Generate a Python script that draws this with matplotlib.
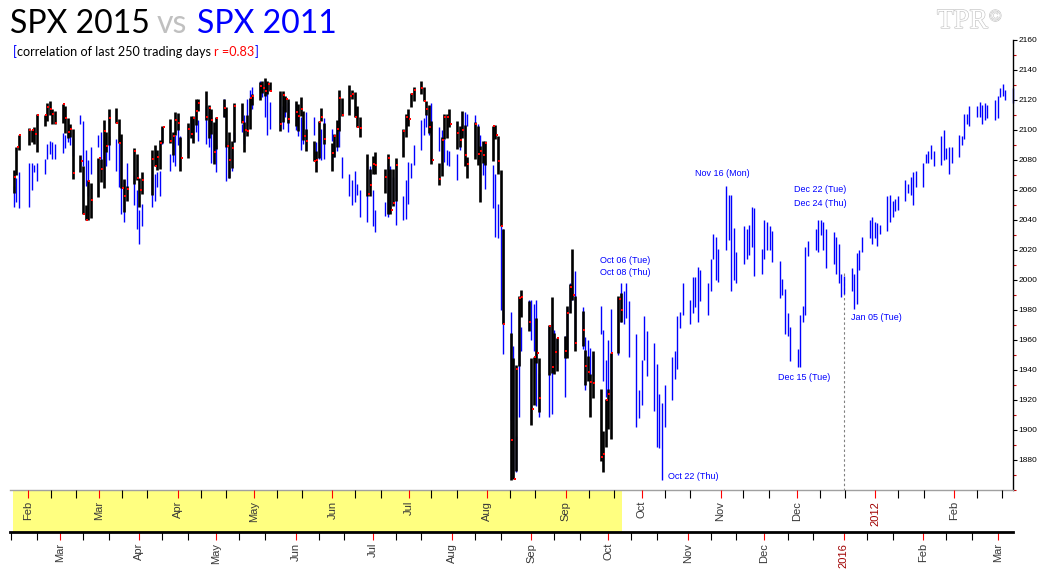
import matplotlib
matplotlib.use("Agg")
import matplotlib.pyplot as plt
import matplotlib.dates as mdates
import matplotlib.ticker as mticker
import matplotlib.transforms as mtransforms
import matplotlib.patheffects as pe
import pandas as pd

plt.rcParams['font.family'] = ['Liberation Sans', 'DejaVu Sans']

# ---------------- data ----------------
HOLIDAYS_2015 = ['2015-02-16', '2015-04-03', '2015-05-25', '2015-07-03', '2015-09-07']
START_2015 = '2015-02-11'
END_2015 = '2015-10-06'
FUTURE_START = '2015-10-07'
FUTURE_END = '2016-03-07'

# SPX 2015 (black bars): high, low, close
spx15_high = [
    2073.5, 2088.5, 2097.0,
    2101.3, 2100.2, 2102.1, 2110.6,
    2110.1, 2117.9, 2119.6, 2113.9, 2112.7,
    2117.5, 2115.8, 2107.7, 2104.3, 2100.9,
    2083.5, 2076.2, 2050.1, 2066.4, 2064.6,
    2081.4, 2080.6, 2106.9, 2098.7, 2113.9,
    2114.9, 2107.6, 2097.4, 2067.2, 2062.8,
    2088.0, 2084.1, 2067.9, 2072.2,
    2087.0, 2089.8, 2086.7, 2093.3, 2102.6,
    2107.6, 2098.6, 2111.9, 2111.3, 2095.1,
    2105.0, 2109.6, 2109.6, 2120.5, 2120.9,
    2125.9, 2116.9, 2113.8, 2105.1, 2108.4,
    2120.9, 2115.2, 2098.4, 2092.9, 2117.7,
    2117.7, 2105.1, 2110.2, 2121.5, 2123.9,
    2131.8, 2133.0, 2134.7, 2133.0, 2132.2,
    2126.2, 2126.1, 2122.5, 2120.7,
    2119.1, 2117.6, 2121.9, 2112.9, 2100.9,
    2093.0, 2085.7, 2106.0, 2115.0, 2104.9,
    2091.3, 2097.4, 2106.8, 2126.6, 2121.6,
    2130.0, 2127.0, 2125.1, 2116.0, 2108.9,
    2084.0, 2074.3, 2082.8, 2085.1,
    2074.2, 2083.7, 2074.3, 2074.2, 2081.3,
    2100.7, 2111.0, 2114.2, 2124.4, 2128.4,
    2132.8, 2128.9, 2119.1, 2116.9, 2106.0,
    2078.0, 2095.6, 2110.6, 2110.5, 2114.2,
    2105.7, 2102.7, 2112.7, 2103.3, 2082.0,
    2105.4, 2102.4, 2089.1, 2092.9, 2092.9,
    2102.9, 2103.5, 2096.2, 2073.6, 2034.1,
    1965.0, 1948.0, 1943.1, 1989.6, 1993.5,
    1986.0, 1947.8, 1948.9, 1975.0, 1947.8,
    1970.0, 1988.6, 1965.0, 1961.1,
    1963.0, 1983.0, 1997.3, 2020.9, 1989.4,
    1979.6, 1953.6, 1949.5, 1937.2, 1952.9,
    1927.2, 1899.5, 1920.5, 1927.2, 1951.4,
    1989.2, 1991.6,
]
spx15_low = [
    2058.0, 2070.0, 2086.7,
    2089.8, 2092.2, 2090.8, 2085.4,
    2103.0, 2105.9, 2109.9, 2103.8, 2103.8,
    2104.5, 2098.3, 2094.5, 2095.2, 2067.3,
    2072.2, 2044.2, 2039.7, 2040.2, 2041.2,
    2055.1, 2065.1, 2061.2, 2085.6, 2090.3,
    2104.4, 2091.1, 2061.1, 2045.5, 2052.9,
    2064.0, 2067.0, 2048.4, 2057.3,
    2056.5, 2076.1, 2073.3, 2074.3, 2091.1,
    2091.5, 2083.2, 2097.0, 2100.0, 2072.4,
    2081.2, 2094.4, 2091.1, 2103.2, 2112.8,
    2107.0, 2094.9, 2097.4, 2077.6, 2087.3,
    2108.4, 2088.5, 2067.9, 2075.0, 2092.1,
    2104.6, 2085.6, 2096.0, 2100.4, 2116.8,
    2120.0, 2124.5, 2122.6, 2124.3, 2126.1,
    2099.2, 2105.1, 2112.1, 2104.9,
    2102.5, 2099.1, 2109.6, 2093.2, 2085.7,
    2079.1, 2072.1, 2081.2, 2106.1, 2091.0,
    2072.5, 2082.1, 2088.9, 2099.1, 2109.5,
    2110.1, 2120.8, 2108.6, 2101.8, 2095.4,
    2056.2, 2056.3, 2071.0, 2071.0,
    2058.3, 2044.0, 2044.3, 2049.3, 2052.4,
    2082.0, 2095.5, 2102.5, 2115.4, 2119.4,
    2123.7, 2119.2, 2110.1, 2098.1, 2077.1,
    2063.5, 2069.1, 2094.1, 2094.4, 2102.1,
    2087.3, 2088.6, 2095.0, 2075.7, 2067.9,
    2080.6, 2076.5, 2052.1, 2078.3, 2076.9,
    2079.3, 2094.1, 2070.5, 2035.7, 1970.9,
    1867.0, 1867.1, 1872.8, 1942.8, 1975.2,
    1966.0, 1903.1, 1916.5, 1944.7, 1911.7,
    1937.0, 1937.9, 1937.2, 1939.2,
    1948.3, 1948.3, 1977.9, 1986.7, 1953.0,
    1955.8, 1929.8, 1932.6, 1908.9, 1921.5,
    1879.2, 1871.9, 1888.9, 1900.7, 1893.7,
    1951.4, 1972.0,
]
spx15_close = [
    2068.5, 2088.5, 2097.0,
    2100.3, 2099.7, 2097.5, 2110.3,
    2109.7, 2115.5, 2113.9, 2110.7, 2104.5,
    2117.4, 2107.8, 2098.5, 2101.0, 2071.3,
    2079.4, 2044.2, 2040.2, 2065.9, 2053.4,
    2081.2, 2074.3, 2099.5, 2089.3, 2108.1,
    2104.4, 2091.5, 2061.1, 2056.2, 2061.0,
    2086.2, 2067.9, 2059.7, 2067.0,
    2080.6, 2076.3, 2081.9, 2091.2, 2102.1,
    2092.4, 2095.8, 2106.6, 2105.0, 2081.2,
    2100.4, 2097.3, 2108.0, 2112.9, 2117.7,
    2108.9, 2114.8, 2106.9, 2085.5, 2108.3,
    2114.5, 2089.5, 2080.2, 2088.0, 2116.1,
    2105.3, 2099.9, 2099.1, 2121.1, 2122.7,
    2129.2, 2127.8, 2125.9, 2130.8, 2126.1,
    2104.2, 2123.5, 2120.8, 2107.4,
    2111.7, 2109.6, 2114.1, 2095.8, 2092.8,
    2079.3, 2080.2, 2105.2, 2108.9, 2094.1,
    2084.4, 2096.3, 2100.4, 2121.2, 2110.0,
    2122.9, 2124.2, 2108.6, 2102.3, 2101.5,
    2057.6, 2063.1, 2077.4, 2076.8,
    2068.8, 2081.3, 2046.7, 2051.3, 2076.6,
    2099.6, 2109.0, 2107.4, 2124.3, 2126.6,
    2128.3, 2119.2, 2114.2, 2102.2, 2079.7,
    2067.6, 2093.3, 2108.6, 2108.6, 2103.8,
    2098.0, 2093.3, 2099.8, 2083.6, 2077.6,
    2104.2, 2084.1, 2086.1, 2083.4, 2091.5,
    2102.4, 2096.9, 2079.6, 2035.7, 1970.9,
    1893.2, 1867.6, 1940.5, 1987.7, 1988.9,
    1972.2, 1913.9, 1948.9, 1951.1, 1921.2,
    1969.4, 1942.0, 1952.3, 1961.1,
    1953.0, 1978.1, 1995.3, 1990.2, 1958.0,
    1967.0, 1942.7, 1938.8, 1932.2, 1931.3,
    1881.8, 1884.1, 1920.0, 1923.8, 1951.4,
    1987.1, 1979.9,
]

# SPX 2011 (blue bars), rescaled to 2015 levels: high, low
spx11_high = [
    2063, 2068, 2072,
    2078, 2078, 2077, 2078,
    2081, 2091, 2093, 2092, 2091,
    2098, 2097, 2100, 2099, 2095,
    2110, 2106, 2087, 2080, 2089,
    2097, 2099, 2094, 2090, 2096,
    2094, 2093, 2062, 2067, 2078,
    2070, 2060, 2047, 2051,
    2069, 2071, 2072, 2073, 2102,
    2084, 2094, 2097, 2104, 2096,
    2103, 2109, 2107, 2112, 2107,
    2116, 2113, 2109, 2100, 2090,
    2121, 2093, 2089, 2087, 2099,
    2104, 2110, 2121, 2127, 2129,
    2133, 2131, 2131, 2131, 2119,
    2124, 2116, 2122, 2119,
    2118, 2113, 2109, 2107, 2112,
    2109, 2092, 2094, 2101, 2108,
    2101, 2097, 2103, 2109, 2082,
    2071, 2067, 2073, 2064, 2060,
    2061, 2076, 2060, 2047,
    2052, 2078, 2076, 2069, 2078,
    2056, 2067, 2079, 2078, 2090,
    2107, 2108, 2114, 2116, 2118,
    2102, 2100, 2094, 2087, 2086,
    2084, 2093, 2104, 2112, 2111,
    2110, 2104, 2097, 2084, 2080,
    2077, 2071, 2051, 2036, 2034,
    1979, 1956, 1896, 1967, 1969,
    1987, 1987, 1984, 1987, 1938,
    1969, 1971, 1967, 1961,
    1963, 1982, 1998, 1997, 2006,
    1982, 1962, 1960, 1955, 1950,
    1983, 1967, 1947, 1960, 1981,
    1988, 1998,
    # projection
    1993, 1998, 1986,
    1964, 1927, 1947, 1976, 1966,
    1958, 1944, 1924, 1918, 1930,
    1949, 1953, 1976, 1979, 1998,
    1987, 2002, 2002, 2009, 2007,
    1998, 2014, 2031, 2029, 2021,
    2063, 2057, 2057, 2035, 2019,
    2036, 2034, 2037, 2049, 2048,
    2021, 2040, 2039, 2036, 2033,
    2013, 2001, 1994, 1978, 1969,
    1954, 1977, 1983, 2022, 2026,
    2034, 2040, 2040, 2039, 2034,
    2032, 2029, 2024, 2004, 2003,
    2008, 2004, 2018, 2020, 2029,
    2040, 2042, 2039, 2038, 2037,
    2056, 2057, 2053, 2054, 2056,
    2067, 2064, 2069, 2072, 2073,
    2078, 2084, 2086, 2090, 2086,
    2096, 2100, 2088, 2089, 2089,
    2097, 2096, 2111, 2111, 2116,
    2116, 2119, 2117, 2118, 2117,
    2120, 2123, 2128, 2131, 2127,
    2128,
]
spx11_low = [
    2049, 2052, 2048,
    2049, 2060, 2072, 2066,
    2071, 2081, 2084, 2081, 2081,
    2085, 2088, 2092, 2090, 2083,
    2104, 2076, 2063, 2056, 2071,
    2089, 2073, 2067, 2076, 2080,
    2073, 2062, 2044, 2039, 2062,
    2050, 2034, 2024, 2036,
    2049, 2053, 2062, 2056, 2091,
    2073, 2079, 2076, 2090, 2088,
    2084, 2097, 2092, 2099, 2093,
    2091, 2089, 2078, 2079, 2072,
    2109, 2066, 2068, 2073, 2092,
    2099, 2091, 2103, 2113, 2114,
    2127, 2122, 2109, 2097, 2101,
    2104, 2101, 2109, 2099,
    2100, 2096, 2087, 2091, 2094,
    2097, 2079, 2081, 2080, 2081,
    2093, 2082, 2086, 2089, 2068,
    2056, 2050, 2052, 2057, 2042,
    2039, 2062, 2036, 2032,
    2043, 2042, 2047, 2051, 2037,
    2040, 2041, 2051, 2068, 2077,
    2087, 2097, 2102, 2097, 2100,
    2086, 2092, 2079, 2077, 2076,
    2067, 2087, 2096, 2096, 2103,
    2083, 2086, 2080, 2070, 2061,
    2048, 2029, 2028, 1980, 1951,
    1907, 1873, 1872, 1909, 1953,
    1967, 1960, 1953, 1916, 1909,
    1909, 1911, 1939, 1944,
    1922, 1953, 1980, 1987, 1958,
    1954, 1927, 1942, 1935, 1936,
    1964, 1933, 1922, 1925, 1920,
    1950, 1972,
    # projection
    1971, 1975, 1949,
    1902, 1908, 1917, 1947, 1936,
    1913, 1889, 1888, 1867, 1902,
    1920, 1934, 1941, 1968, 1977,
    1971, 1978, 1982, 1972, 1986,
    1977, 1993, 2014, 2000, 1999,
    2020, 2027, 1993, 2000, 1998,
    2011, 2014, 2017, 2022, 2003,
    2004, 2014, 2020, 2020, 2012,
    1988, 1990, 1964, 1963, 1946,
    1942, 1942, 1972, 1977, 2016,
    2020, 2019, 2030, 2020, 2008,
    2011, 2004, 1998, 1989, 1991,
    1993, 1981, 1984, 2007, 2019,
    2028, 2024, 2028, 2023, 2031,
    2033, 2039, 2042, 2046, 2047,
    2053, 2058, 2057, 2050, 2062,
    2062, 2078, 2078, 2081, 2076,
    2077, 2080, 2081, 2071, 2078,
    2082, 2090, 2094, 2104, 2103,
    2109, 2109, 2104, 2107, 2108,
    2107, 2108, 2122, 2123, 2120,
    2118,
]

LOWER_TICK_DATES = ['2015-03-01', '2015-04-01', '2015-05-01', '2015-06-01', '2015-07-01',
                    '2015-08-01', '2015-09-01', '2015-10-01', '2015-11-01', '2015-12-01',
                    '2016-01-01', '2016-02-01', '2016-03-01']
LOWER_TICK_LABELS = ['Mar', 'Apr', 'May', 'Jun', 'Jul', 'Aug', 'Sep', 'Oct', 'Nov', 'Dec',
                     '2016', 'Feb', 'Mar']
UPPER_TICK_DATES = ['2011-02-01', '2011-03-01', '2011-04-01', '2011-05-01', '2011-06-01',
                    '2011-07-01', '2011-08-01', '2011-09-01', '2011-10-01', '2011-11-01',
                    '2011-12-01', '2012-01-01', '2012-02-01']
UPPER_TICK_LABELS = ['Feb', 'Mar', 'Apr', 'May', 'Jun', 'Jul', 'Aug', 'Sep', 'Oct', 'Nov',
                     'Dec', '2012', 'Feb']
YEAR_LABELS = ['2016', '2012']

ANNOTATIONS = [  # (text, date, price)
    ('Oct 06 (Tue)', '2015-09-27 20:00', 2013.3),
    ('Oct 08 (Thu)', '2015-09-27 20:00', 2004.7),
    ('Nov 16 (Mon)', '2015-11-03 22:00', 2070.7),
    ('Dec 22 (Tue)', '2015-12-12 12:00', 2060.0),
    ('Dec 24 (Thu)', '2015-12-12 12:00', 2051.3),
    ('Jan 05 (Tue)', '2016-01-03 17:00', 1974.7),
    ('Dec 15 (Tue)', '2015-12-06 05:00', 1935.3),
    ('Oct 22 (Thu)', '2015-10-24 07:00', 1868.7),
]
DASH_DATE = '2016-01-01'
DASH_TOP = 2005

# ---------------- dates ----------------
dates15 = pd.bdate_range(START_2015, END_2015, freq='C', holidays=HOLIDAYS_2015)
dates11 = dates15.append(pd.bdate_range(FUTURE_START, FUTURE_END))
assert len(dates15) == len(spx15_high) == len(spx15_low) == len(spx15_close)
assert len(dates11) == len(spx11_high) == len(spx11_low)

# ---------------- figure ----------------
W, H = 1042, 576
fig = plt.figure(figsize=(W / 100, H / 100), dpi=100)


def rect(l, t, r, b):
    return [l / W, 1 - b / H, (r - l) / W, (b - t) / H]


ax = fig.add_axes(rect(10, 40, 1013, 490))
axb = fig.add_axes(rect(10, 490, 1013, 532))

x_left = pd.Timestamp('2015-02-09 12:00')
x_right = pd.Timestamp('2016-03-07 00:00')
ax.set_xlim(x_left, x_right)
axb.set_xlim(x_left, x_right)
ax.set_ylim(1860, 2160)

# bars
ax.vlines(dates11, spx11_low, spx11_high, colors='#0000ff', lw=1.0, zorder=2, clip_on=False)
ax.vlines(dates15, spx15_low, spx15_high, colors='black', lw=1.9, zorder=3)
ax.plot(dates15 + pd.Timedelta(hours=11), spx15_close, ls='none', marker='s', ms=1.5,
        mew=0, color='#ff0000', zorder=4)

# dashed marker line
ax.plot([pd.Timestamp(DASH_DATE)] * 2, [DASH_TOP, 1860], ls=(0, (2.2, 2.2)),
        color='#808080', lw=0.8, zorder=1)

for txt, d, p in ANNOTATIONS:
    ax.text(pd.Timestamp(d), p, txt, color='#0000ff', fontsize=6.5, ha='left', va='center',
            zorder=5)

# main axes style
for s in ['left', 'top', 'bottom']:
    ax.spines[s].set_visible(False)
ax.spines['right'].set_linewidth(1.0)
ax.set_xticks([])
ax.yaxis.tick_right()
ax.set_yticks(range(1880, 2161, 20))
ax.yaxis.set_minor_locator(mticker.MultipleLocator(10))
ax.tick_params(axis='y', which='major', direction='out', length=3, width=0.8, color='black',
               pad=1, labelsize=6)
ax.tick_params(axis='y', which='minor', direction='out', length=2.5, width=0.8, color='#cc0000')
ax.patch.set_alpha(0)

# band axes (2015 lower axis)
axb.set_ylim(0, 1)
axb.axvspan(dates15[0] - pd.Timedelta(hours=12), dates15[-1] + pd.Timedelta(hours=12),
            color='#ffff80', lw=0, zorder=0)
for s in ['left', 'right']:
    axb.spines[s].set_visible(False)
axb.spines['top'].set_color('#a0a0a0')
axb.spines['top'].set_linewidth(1.0)
axb.spines['bottom'].set_linewidth(2.0)
axb.set_yticks([])
axb.set_xticks(pd.to_datetime(LOWER_TICK_DATES))
axb.set_xticklabels(LOWER_TICK_LABELS, rotation=90)
axb.xaxis.set_minor_locator(mdates.DayLocator(bymonthday=[10, 20]))
axb.tick_params(axis='x', which='major', direction='out', length=5.8, width=0.8,
                color='#ff0000', pad=2, labelsize=8, labelcolor='#383838')
axb.tick_params(axis='x', which='minor', direction='out', length=5.8, width=0.8, color='black')
for lab in axb.get_xticklabels():
    if lab.get_text() in YEAR_LABELS:
        lab.set_color('#a00000')

# upper 2011 axis inside the band
ax2 = axb.twiny()
ax2.set_xlim(pd.Timestamp('2011-01-24 21:43'), pd.Timestamp('2012-02-24 06:00'))
for s in ax2.spines.values():
    s.set_visible(False)
ax2.set_xticks(pd.to_datetime(UPPER_TICK_DATES))
ax2.set_xticklabels([])
ax2.xaxis.set_minor_locator(mdates.DayLocator(bymonthday=[10, 20]))
ax2.tick_params(axis='x', which='major', direction='in', length=5.8, width=0.8,
                color='#ff0000', top=True, bottom=False)
ax2.tick_params(axis='x', which='minor', direction='in', length=5.8, width=0.8,
                color='black', top=True, bottom=False)
tr = mtransforms.blended_transform_factory(ax2.transData, axb.transAxes)
for d, lab in zip(pd.to_datetime(UPPER_TICK_DATES), UPPER_TICK_LABELS):
    ax2.text(mdates.date2num(d), 0.74, lab, transform=tr, rotation=90, ha='center', va='top',
             fontsize=8, color='#a00000' if lab in YEAR_LABELS else '#383838')

# ---------------- titles ----------------
renderer = fig.canvas.get_renderer()


def px_text(x, y, s, **kw):
    return fig.text(x / W, 1 - y / H, s, ha='left', va='baseline', **kw)


tfont = ['Lato', 'DejaVu Sans']
t1 = px_text(10, 33, 'SPX 2015', fontsize=24, color='black', family=tfont)
w = t1.get_window_extent(renderer).width
fs = 24 * 140 / w
t1.set_fontsize(fs)
px_text(157, 33, 'vs', fontsize=fs, color='#c0c0c0', family=tfont)
px_text(197, 33, 'SPX 2011', fontsize=fs, color='#0000ff', family=tfont)

sub_pieces = [('[', '#0000ff'), ('correlation of last 250 trading days ', 'black'),
              ('r =0.83', '#ff0000'), (']', '#0000ff')]
sub_fs = 9.5


def space_width(fsz):
    a = px_text(0, 0, 'a a', fontsize=fsz, family=tfont)
    b = px_text(0, 0, 'aa', fontsize=fsz, family=tfont)
    wa = a.get_window_extent(renderer).width
    wb = b.get_window_extent(renderer).width
    a.remove(); b.remove()
    return wa - wb


def draw_pieces(x0, y0, pieces, fsz):
    x = x0
    sw = space_width(fsz)
    objs = []
    for s, c in pieces:
        t = px_text(x, y0, s.rstrip(' '), fontsize=fsz, color=c, family=tfont)
        objs.append(t)
        x += t.get_window_extent(renderer).width
        if s.endswith(' '):
            x += sw
    return objs, x - x0


objs, total = draw_pieces(13, 56.5, sub_pieces, sub_fs)
for o in objs:
    o.remove()
sub_fs = sub_fs * 245 / total
draw_pieces(13, 56.5, sub_pieces, sub_fs)

# watermark
wm = px_text(937, 28, 'TPR', fontsize=20, color='white', family=['Liberation Serif'])
wm.set_path_effects([pe.withStroke(linewidth=0.9, foreground='#c4c4c4')])
wwm = wm.get_window_extent(renderer).width
wc = px_text(937 + wwm + 1, 21, '\u00a9', fontsize=12, color='white',
             family=['Liberation Serif'])
wc.set_path_effects([pe.withStroke(linewidth=0.8, foreground='#c4c4c4')])

fig.savefig('out.png', dpi=100)
